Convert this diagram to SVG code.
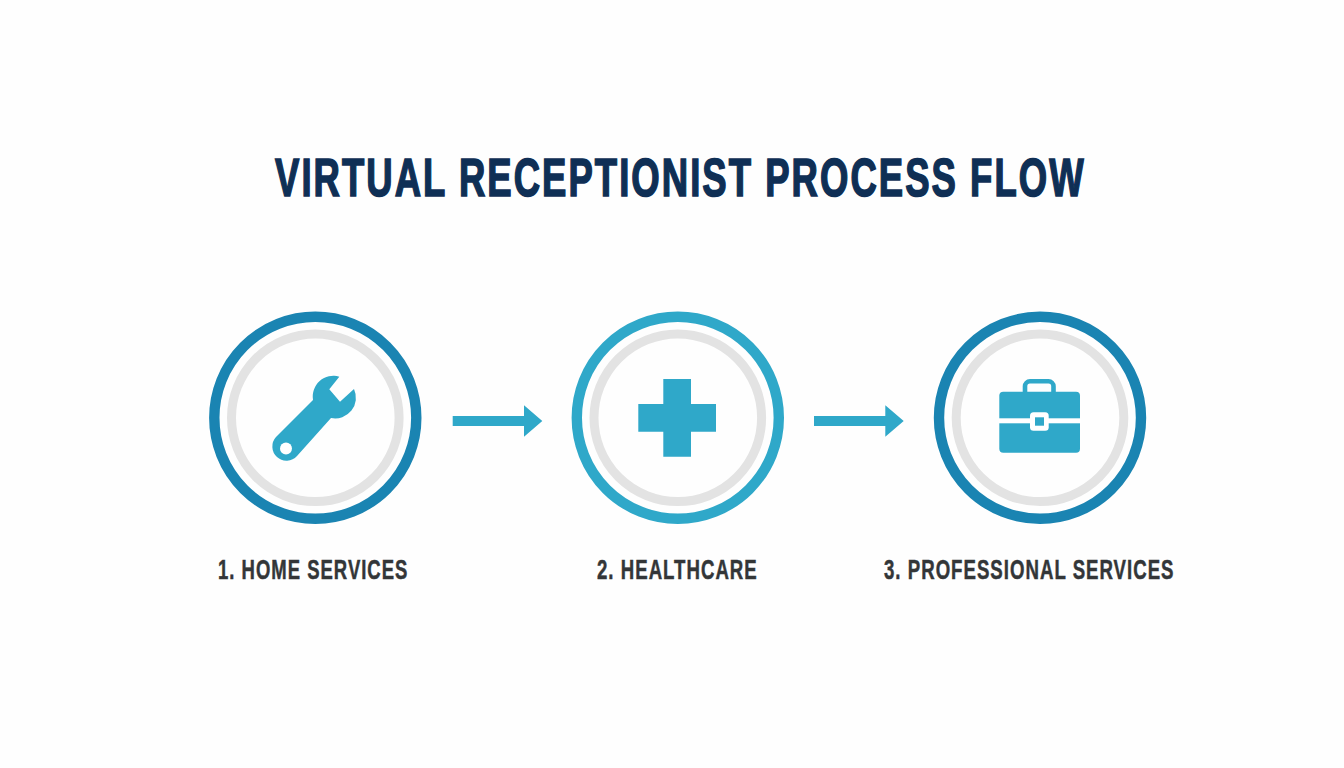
<svg xmlns="http://www.w3.org/2000/svg" width="1344" height="768" viewBox="0 0 1344 768">
<style>
.title{font-family:"Liberation Sans",Arial,sans-serif;font-weight:700;font-size:53.5px;letter-spacing:3px;fill:#0f2f55;stroke:#0f2f55;stroke-width:1.6px}
.label{font-family:"Liberation Sans",Arial,sans-serif;font-weight:700;font-size:27.6px;letter-spacing:1.5px;fill:#333638;stroke:#333638;stroke-width:.5px}
.dark{fill:none;stroke:#1a84b2;stroke-width:10.4}
.light{fill:none;stroke:#2fa8c9;stroke-width:10.4}
.gray{fill:none;stroke:#e3e3e3;stroke-width:9}
.icon{fill:#2fa8c9}
.hole{fill:#fff}
</style>
<rect width="1344" height="768" fill="#fefefe"/>
<text id="title" class="title" transform="translate(275 196) scale(.682 1)">VIRTUAL RECEPTIONIST PROCESS FLOW</text>
<g id="node1">
<circle class="dark" cx="315.3" cy="417.8" r="101"/>
<circle class="gray" cx="315.3" cy="417.8" r="83.8"/>
<path class="icon" d="M339.3 376.7L329.3 389.3L340 401.7L354 389A20.7 20.7 0 0 1 331 418L297 456A12.5 12.5 0 0 1 276 437L313 400A20.7 20.7 0 0 1 339.3 376.7Z"/>
<circle class="hole" cx="286" cy="448.5" r="6"/>
<text class="label" transform="translate(218 578.8) scale(.67 1)">1. HOME SERVICES</text>
</g>
<g id="node2">
<circle class="light" cx="677.8" cy="417.8" r="101"/>
<circle class="gray" cx="677.8" cy="417.8" r="83.8"/>
<path class="icon" d="M663.3 379H691V404H716V431.7H691V456.7H663.3V431.7H638.3V404H663.3Z"/>
<text class="label" transform="translate(597 578.8) scale(.675 1)">2. HEALTHCARE</text>
</g>
<g id="node3">
<circle class="dark" cx="1040" cy="417.8" r="101"/>
<circle class="gray" cx="1040" cy="417.8" r="83.8"/>
<rect x="1025" y="381.3" width="28.5" height="16" rx="5" fill="none" stroke="#2fa8c9" stroke-width="4.6"/>
<rect class="icon" x="999.3" y="391.7" width="80.7" height="61" rx="4"/>
<rect class="hole" x="999" y="418.3" width="81.5" height="5"/>
<rect class="hole" x="1030" y="412.3" width="18.7" height="18.4" rx="3.5"/>
<rect class="icon" x="1035" y="417.3" width="9" height="8.4"/>
<text class="label" transform="translate(884 578.8) scale(.675 1)">3. PROFESSIONAL SERVICES</text>
</g>
<g id="connectors">
<path class="icon" d="M452.7 416H524V405.3L542.3 421L524 436.7V426H452.7Z"/>
<path class="icon" d="M814 416H885.3V405.3L903.7 421L885.3 436.7V426H814Z"/>
</g>
</svg>
